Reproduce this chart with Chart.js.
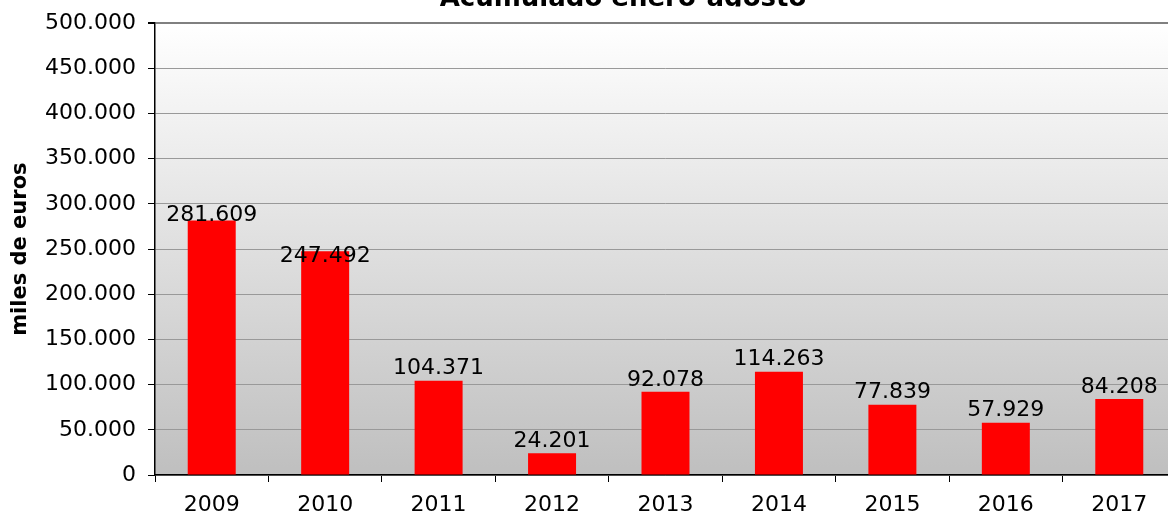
<html>
<head>
  <meta charset="UTF-8">
  <script src="https://cdn.jsdelivr.net/npm/chart.js@4.4.1/dist/chart.umd.min.js"></script>
  <style>
    body {padding: 0; margin: 0; overflow: hidden; background: #fff;}
    #wrap {position: absolute; left: 0; top: -2px; width: 1176px; height: 520px;}
  </style>
</head>

<body>

<div id="wrap"><canvas id="myChart"></canvas></div>

<script>

// datos (miles de euros)
var years = ['2009', '2010', '2011', '2012', '2013', '2014', '2015', '2016', '2017'];
var values = [281609, 247492, 104371, 24201, 92078, 114263, 77839, 57929, 84208];
var chartTitle = 'Acumulado enero-agosto';
var axisTitle = 'miles de euros';

function fmt(v) {
    return String(v).replace(/\B(?=(\d{3})+(?!\d))/g, '.');
}

// fondo degradado del area de trazado
var bgPlugin = {
    id: 'bg',
    beforeDraw: function(chart) {
        var a = chart.chartArea, ctx = chart.ctx;
        var g = ctx.createLinearGradient(0, a.top, 0, a.bottom);
        g.addColorStop(0, '#ffffff');
        g.addColorStop(1, '#bfbfbf');
        ctx.save();
        ctx.fillStyle = g;
        ctx.fillRect(a.left, a.top, a.right - a.left, a.bottom - a.top);
        ctx.restore();
    }
};

// titulo cortado por arriba, como en la imagen original
var titlePlugin = {
    id: 'cutTitle',
    afterDraw: function(chart) {
        var ctx = chart.ctx;
        ctx.save();
        ctx.beginPath();
        ctx.rect(0, 0, chart.width, 8.5);
        ctx.clip();
        ctx.font = 'bold 26px "DejaVu Sans"';
        ctx.fillStyle = '#000';
        ctx.textAlign = 'center';
        ctx.textBaseline = 'alphabetic';
        ctx.fillText(chartTitle, 623, 8);
        ctx.restore();
    }
};

// etiquetas de valor encima de las barras
var shift = [7, 17, 0, 0, 0, 0, 0, 0, 0];
var labelPlugin = {
    id: 'labels',
    afterDatasetsDraw: function(chart) {
        var ctx = chart.ctx;
        var meta = chart.getDatasetMeta(0);
        ctx.save();
        ctx.font = '22px "DejaVu Sans"';
        ctx.fillStyle = '#000';
        ctx.textAlign = 'center';
        ctx.textBaseline = 'middle';
        meta.data.forEach(function(bar, i) {
            ctx.fillText(fmt(values[i]), bar.x, bar.y - 12 + shift[i]);
        });
        ctx.restore();
    }
};

var ctx = document.getElementById('myChart').getContext('2d');
var myChart = new Chart(ctx, {
    type: 'bar',
    data: {
        labels: years,
        datasets: [{
            data: values,
            backgroundColor: '#ff0000',
            barPercentage: 0.423,
            categoryPercentage: 1
        }]
    },
    options: {
        responsive: true,
        maintainAspectRatio: false,
        animation: false,
        layout: {padding: {top: 21, left: 0, right: 0, bottom: 0}},
        plugins: {
            legend: {display: false},
            tooltip: {enabled: false},
            title: {display: false}
        },
        scales: {
            x: {
                afterFit: function(s) { s.height = 43; },
                grid: {
                    offset: true,
                    drawOnChartArea: false,
                    tickLength: 7,
                    tickColor: '#000'
                },
                border: {color: '#000', width: 1.5},
                ticks: {
                    color: '#000',
                    padding: 10,
                    font: {family: 'DejaVu Sans', size: 22}
                }
            },
            y: {
                min: 0,
                max: 500000,
                afterFit: function(s) { s.width = 155; },
                ticks: {
                    stepSize: 50000,
                    color: '#000',
                    padding: 12,
                    font: {family: 'DejaVu Sans', size: 22},
                    callback: function(v) { return fmt(v); }
                },
                grid: {
                    color: function(c) { return c.index === 10 ? '#808080' : '#999999'; },
                    lineWidth: function(c) { return c.index === 10 ? 2 : 1; },
                    tickLength: 7,
                    tickColor: '#000'
                },
                border: {color: '#000', width: 1.5},
                title: {
                    display: true,
                    text: axisTitle,
                    color: '#000',
                    font: {family: 'DejaVu Sans', size: 21, weight: 'bold'},
                    padding: {top: 8, bottom: 0}
                }
            }
        }
    },
    plugins: [bgPlugin, titlePlugin, labelPlugin]
});

</script>
</body>
</html>
